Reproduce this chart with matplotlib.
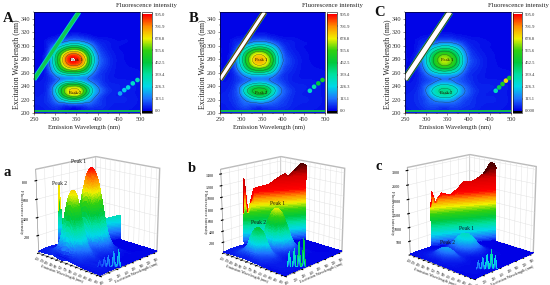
import numpy as np
import matplotlib
matplotlib.use("Agg")
import matplotlib.pyplot as plt
import matplotlib.tri as mtri
from matplotlib.colors import LinearSegmentedColormap, Normalize
from matplotlib.cm import ScalarMappable

plt.rcParams['font.family'] = ['Liberation Serif', 'DejaVu Serif']
plt.rcParams['grid.color'] = '#dedede'
plt.rcParams['grid.linewidth'] = 0.3
plt.rcParams['axes.linewidth'] = 0.4

# ---------- data ----------
em_nm = [250, 285, 300, 315, 330, 345, 360, 375, 390, 410, 450, 500]
ex_nm = [200, 215, 225, 233, 242, 250, 260, 270, 280, 290, 300, 310, 350]

eem_A = [
    [20, 30, 30, 40, 40, 40, 40, 35, 30, 25, 15, 10],
    [30, 50, 80, 110, 130, 150, 130, 110, 80, 50, 30, 15],
    [30, 60, 150, 350, 520, 580, 500, 300, 150, 60, 30, 15],
    [30, 60, 210, 470, 660, 720, 650, 430, 210, 90, 30, 15],
    [25, 50, 130, 300, 450, 480, 420, 260, 140, 60, 30, 15],
    [20, 40, 80, 120, 150, 160, 150, 120, 80, 50, 20, 10],
    [15, 60, 170, 300, 380, 400, 360, 260, 120, 50, 15, 10],
    [15, 90, 300, 560, 740, 790, 720, 500, 220, 70, 15, 8],
    [15, 110, 350, 640, 860, 905, 830, 590, 270, 80, 15, 8],
    [15, 80, 270, 500, 680, 740, 660, 450, 200, 60, 12, 8],
    [10, 40, 110, 210, 300, 340, 300, 200, 100, 40, 10, 8],
    [10, 15, 30, 50, 70, 80, 70, 50, 30, 15, 8, 8],
    [8, 8, 8, 8, 8, 8, 8, 8, 8, 8, 8, 8],
]
eem_B = [
    [20, 30, 30, 40, 40, 40, 40, 35, 30, 25, 15, 10],
    [30, 50, 80, 100, 110, 120, 110, 90, 70, 50, 30, 15],
    [30, 60, 110, 220, 340, 390, 330, 200, 110, 60, 30, 15],
    [30, 60, 150, 340, 470, 510, 460, 300, 150, 70, 30, 15],
    [25, 50, 100, 190, 280, 310, 270, 170, 100, 50, 30, 15],
    [20, 40, 70, 100, 120, 130, 120, 100, 70, 40, 20, 10],
    [15, 50, 130, 240, 310, 330, 300, 210, 100, 45, 15, 10],
    [15, 80, 240, 450, 610, 660, 600, 410, 180, 60, 15, 8],
    [15, 90, 280, 520, 700, 750, 680, 480, 220, 70, 15, 8],
    [15, 70, 220, 410, 560, 610, 540, 370, 170, 50, 12, 8],
    [10, 35, 90, 170, 250, 280, 250, 170, 85, 35, 10, 8],
    [10, 15, 25, 40, 60, 70, 60, 40, 25, 15, 8, 8],
    [8, 8, 8, 8, 8, 8, 8, 8, 8, 8, 8, 8],
]
eem_C = [
    [20, 30, 30, 40, 40, 40, 40, 35, 30, 25, 15, 10],
    [30, 50, 70, 90, 100, 100, 100, 80, 60, 45, 30, 15],
    [30, 55, 90, 170, 250, 280, 240, 150, 90, 50, 30, 15],
    [30, 55, 120, 240, 340, 370, 330, 220, 120, 60, 30, 15],
    [25, 45, 85, 140, 210, 230, 200, 130, 85, 45, 30, 15],
    [20, 40, 65, 90, 110, 115, 110, 90, 65, 40, 20, 10],
    [15, 45, 110, 190, 250, 270, 240, 170, 85, 40, 15, 10],
    [15, 70, 190, 370, 510, 560, 500, 340, 150, 55, 15, 8],
    [15, 80, 230, 430, 590, 640, 570, 400, 180, 60, 15, 8],
    [15, 60, 180, 330, 460, 500, 440, 300, 140, 45, 12, 8],
    [10, 30, 75, 140, 200, 230, 200, 140, 70, 30, 10, 8],
    [10, 15, 25, 35, 50, 55, 50, 35, 25, 15, 8, 8],
    [8, 8, 8, 8, 8, 8, 8, 8, 8, 8, 8, 8],
]

scatter_em_A = [453, 463, 472, 483, 494]
scatter_ex_A = [229, 234, 238, 244, 249]
scatter_val_A = [170, 210, 240, 280, 300]
spike_val_a = [70, 100, 130, 170, 190]
scatter_em_B = [464, 474, 484, 494]
scatter_ex_B = [233, 239, 244, 249]
scatter_val_B = [280, 330, 450, 500]
scatter_em_C = [464, 472, 480, 488, 496]
scatter_ex_C = [233, 238, 243, 248, 252]
scatter_val_C = [300, 420, 520, 700, 480]

rayleigh_em = [250, 252, 255, 258, 262, 268, 280, 292, 303, 315, 320, 325, 335, 346, 352, 355]
rayleigh_ex = [250, 252, 254, 257, 261, 267, 279, 290, 300, 311, 316, 321, 330, 341, 347, 350]
rayleigh_top_a = [400, 700, 420, 170, 190, 220, 230, 240, 250, 260, 265, 270, 280, 295, 300, 290]
rayleigh_top_b = [600, 1250, 1000, 620, 800, 1050, 1080, 1100, 1180, 1260, 1280, 1230, 1320, 1450, 1430, 1400]
rayleigh_top_c = [1500, 2100, 1900, 1650, 1850, 2000, 1900, 2100, 2350, 2350, 2400, 2450, 2600, 3000, 2950, 2800]

cbar_ticks = [0.0, 113.1, 226.3, 339.4, 452.5, 565.6, 678.8, 791.9, 905.0]
cbar_labels = ['0.000', '113.1', '226.3', '339.4', '452.5', '565.6', '678.8', '791.9', '905.0']
em_ticks = [250, 300, 350, 400, 450, 500]
ex_ticks = [200, 220, 240, 260, 280, 300, 320, 340]
em_ticks_3d = [250, 270, 290, 310, 330, 350, 370, 390, 410, 430, 450, 470, 490]
ex_ticks_3d = [200, 220, 240, 260, 280, 300, 320, 340]
z_ticks_a = [200, 400, 600, 800]
z_ticks_b = [200, 400, 600, 800, 1000, 1200, 1400]
z_ticks_c = [500, 1000, 1500, 2000, 2500, 3000]

peak_em_2d = [349, 347]
peak_ex_2d = [279, 230]
peak_names = ['Peak 1', 'Peak 2']
peak_top_a = [905, 720]
peak_top_b = [750, 510]
peak_top_c = [640, 370]

# ---------- styling ----------
W, H = 550, 285
stops = ['#0000e6', '#1e74ff', '#00d8e8', '#00e0a0', '#00c83c', '#30d010', '#f0f000', '#ff9000', '#ff0000']
cmap2d = LinearSegmentedColormap.from_list('rb', list(zip(np.linspace(0, 1, 9), stops)), N=256)
cmap2d.set_over('white')
cmap2d.set_under('black')
s3 = np.linspace(0, 0.69, 9)
cmap3d = LinearSegmentedColormap.from_list(
    'rb3', list(zip(s3, stops)) + [(0.85, '#d80000'), (1.0, '#500000')], N=256)
norm2d = Normalize(0, 905)
DARK = '#222222'


def axbox(l, t, r, b):
    return [l / W, 1 - b / H, (r - l) / W, (b - t) / H]


em_arr = np.array(em_nm, float)
ex_arr = np.array(ex_nm, float)
X, Y = np.meshgrid(em_arr, ex_arr)
base_tri = mtri.Triangulation(X.ravel(), Y.ravel())
refiner = mtri.UniformTriRefiner(base_tri)


def refined(table):
    t, z = refiner.refine_field(np.array(table, float).ravel(), subdiv=3)
    return t, np.clip(np.asarray(z), 1, None)


def panel2d(table, box, cbox, title_x, dots, band_colors):
    ax = fig.add_axes(axbox(*box))
    t, z = refined(table)
    levels = np.linspace(0, 905, 91)
    ax.tricontourf(t, z, levels=levels, cmap=cmap2d, norm=norm2d, extend='max')
    ax.tricontour(t, z, levels=[113.1, 226.3, 339.4, 452.5, 565.6, 678.8, 791.9],
                  colors='#203828', linewidths=0.22)
    ax.plot([250, 500], [202.5, 202.5], color='#10c840', lw=1.3, solid_capstyle='butt')
    ax.plot([250, 252], [200.5, 200.5], color='#ff0000', lw=1.6, solid_capstyle='butt')
    for c, lw in band_colors:
        ax.plot([250, 356], [250, 350], color=c, lw=lw, solid_capstyle='butt')
    em_d, ex_d, val_d = dots
    ax.scatter(em_d, ex_d, c=val_d, cmap=cmap2d, norm=norm2d, s=11, linewidths=0)
    for a, b, n in zip(peak_em_2d, peak_ex_2d, peak_names):
        ax.text(a, b, n, fontsize=3.3, ha='center', va='center', color='#201000')
    ax.set_xlim(250, 500)
    ax.set_ylim(200, 350)
    ax.set_xticks(em_ticks)
    ax.set_yticks(ex_ticks)
    ax.set_xticks([275, 325, 375, 425, 475], minor=True)
    ax.set_yticks([210, 230, 250, 270, 290, 310, 330, 350], minor=True)
    ax.tick_params(which='major', labelsize=4.6, length=1.6, width=0.4, pad=1.0, colors='#333333')
    ax.tick_params(which='minor', length=0.9, width=0.3)
    ax.set_xlabel('Emission Wavelength (nm)', fontsize=4.8, color=DARK, va='center')
    ax.set_ylabel('Excitation Wavelength (nm)', fontsize=5.7, color=DARK, va='center')
    ax.xaxis.set_label_coords(0.47, -0.14)
    ax.yaxis.set_label_coords(-0.16, 0.48)
    cax = fig.add_axes(axbox(*cbox))
    cb = fig.colorbar(ScalarMappable(norm2d, cmap2d), cax=cax, extend='both', extendrect=True,
                      extendfrac=0.025, ticks=cbar_ticks)
    cb.ax.set_yticklabels(cbar_labels)
    cb.ax.tick_params(labelsize=3.3, length=1.0, width=0.3, pad=1, colors='#333333')
    cb.minorticks_off()
    cb.outline.set_linewidth(0.4)
    fig.text(title_x / W, 1 - 6 / H, 'Fluorescence intensity', fontsize=4.9, ha='center', va='center', color=DARK)


def wall(ax, em, ex, top, norm, zmax, zo):
    em = np.asarray(em, float)
    ex = np.asarray(ex, float)
    top = np.asarray(top, float)
    lv = np.linspace(0, zmax, 60)
    Xw = np.tile(em, (len(lv), 1))
    Yw = np.tile(ex, (len(lv), 1))
    Zw = np.minimum.outer(lv, top)
    fc = cmap3d(norm(0.5 * (lv[:-1] + lv[1:])))
    fc = np.repeat(fc[:, None, :], len(em) - 1, axis=1)
    return ax.plot_surface(Xw, Yw, Zw, facecolors=fc, rstride=1, cstride=1, shade=False,
                           linewidth=0, antialiased=False, zorder=zo)


def panel3d(table, box, zoom, top, zlim, zticks, zred, dots, spikes, peak_top, labels, zlab_xy):
    ax = fig.add_axes(axbox(*box), projection='3d', computed_zorder=False)
    ax.patch.set_alpha(0)
    norm = Normalize(0, zred / 0.69)
    wall(ax, rayleigh_em, rayleigh_ex, top, norm, zlim, 1)
    t, z = refined(table)
    tris = t.triangles
    cx = t.x[tris].mean(axis=1)
    cy = t.y[tris].mean(axis=1)
    t.set_mask(cy > cx + 1)
    ax.plot_trisurf(t, z, cmap=cmap3d, norm=norm, linewidth=0, antialiased=False, shade=False, zorder=2)
    em_d, ex_d, _ = dots
    for a, b, v in zip(em_d, ex_d, spikes):
        wall(ax, [a - 4, a, a + 4], [b - 2, b, b + 2], [0, v, 0], norm, zlim, 3)
    for (px, py, ha), n, pz in zip(labels, peak_names, peak_top):
        ax.text(px, py, pz + 0.03 * zlim, n, fontsize=4.0, ha=ha, va='bottom', color='#111111', zorder=10)
    ax.set_xlim(250, 500)
    ax.set_ylim(200, 350)
    ax.set_zlim(0, zlim)
    ax.set_xticks(em_ticks_3d)
    ax.set_yticks(ex_ticks_3d)
    ax.set_zticks(zticks)
    ax.view_init(elev=17, azim=-47)
    ax.set_proj_type('persp', focal_length=0.7)
    ax.set_box_aspect((1, 1, 1.02), zoom=zoom)
    for a in (ax.xaxis, ax.yaxis, ax.zaxis):
        a.set_pane_color((1, 1, 1, 1))
        a.pane.set_edgecolor('#bbbbbb')
        a.line.set_color('#888888')
        a.line.set_linewidth(0.4)
        a.get_offset_text().set_visible(False)
    ax.zaxis.set_ticks_position('lower')
    ax.tick_params(axis='x', labelsize=2.2, pad=-6, labelrotation=-30)
    ax.tick_params(axis='y', labelsize=2.2, pad=-6, labelrotation=30)
    ax.tick_params(axis='z', labelsize=3.0, pad=-3)
    ax.set_xlabel('Emission Wavelength (nm)', fontsize=3.0, labelpad=-16, color=DARK)
    ax.set_ylabel('Excitation Wavelength (nm)', fontsize=3.0, labelpad=-16, color=DARK)
    fig.text(zlab_xy[0] / W, 1 - zlab_xy[1] / H, 'Fluorescence intensity', fontsize=3.5,
             rotation=270, ha='center', va='center', color=DARK)


fig = plt.figure(figsize=(W / 100, H / 100), dpi=100)

panel2d(eem_A, (34, 12, 140, 113), (142, 12, 152, 113), 146,
        (scatter_em_A, scatter_ex_A, scatter_val_A), [('#00d8d0', 3.6), ('#10c850', 2.4)])
panel2d(eem_B, (220, 12, 325, 113), (327, 12, 337, 113), 332,
        (scatter_em_B, scatter_ex_B, scatter_val_B),
        [('#10c850', 4.4), ('#c02000', 3.6), ('#302010', 3.1), ('white', 2.3)])
panel2d(eem_C, (405, 12, 511, 113), (513, 12, 522, 113), 518,
        (scatter_em_C, scatter_ex_C, scatter_val_C),
        [('#10c850', 5.2), ('#302010', 4.4), ('white', 3.4)])

panel3d(eem_A, (8, 141, 184, 286), 1.0, rayleigh_top_a, 920, z_ticks_a, 905,
        (scatter_em_A, scatter_ex_A, scatter_val_A), spike_val_a, peak_top_a,
        [(318, 280, 'right'), (320, 233, 'right')], (21, 212))
panel3d(eem_B, (192, 141, 370, 286), 1.0, rayleigh_top_b, 1480, z_ticks_b, 1000,
        (scatter_em_B, scatter_ex_B, scatter_val_B), scatter_val_B, peak_top_b,
        [(345, 280, 'center'), (345, 233, 'center')], (205, 212))
panel3d(eem_C, (381, 141, 559, 286), 1.04, rayleigh_top_c, 3100, z_ticks_c, 2000,
        (scatter_em_C, scatter_ex_C, scatter_val_C), scatter_val_C, peak_top_c,
        [(345, 280, 'center'), (345, 233, 'center')], (392, 213))

for s, x, y, fs in [('A', 3, 19, 10.5), ('B', 189, 19, 10.5), ('C', 374, 13, 10.5),
                    ('a', 3, 173, 10.5), ('b', 188, 169, 10.5), ('c', 376, 167, 10.5)]:
    fig.text(x / W, 1 - y / H, s, fontsize=fs, fontweight='bold', ha='left', va='center', color='#111111')

fig.savefig('out.png', dpi=100)
